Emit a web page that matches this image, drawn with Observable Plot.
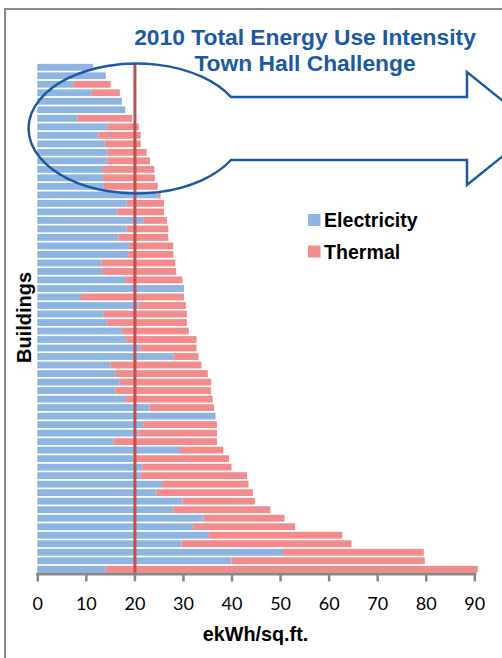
<!DOCTYPE html>
<html>
<head>
<meta charset="utf-8">
<script src="https://cdn.jsdelivr.net/npm/d3@7"></script>
<script src="https://cdn.jsdelivr.net/npm/@observablehq/plot@0.6"></script>
<style>
  html, body { margin: 0; padding: 0; background: #fff; }
  #wrap { position: relative; width: 502px; height: 658px; overflow: hidden; background: #fff; }
  #wrap > svg { position: absolute; left: 0; top: 0; }
  #deco { pointer-events: none; }
</style>
</head>
<body>
<div id="wrap"></div>
<script>
// ---- data (top bar first) ----
const buildings = [1,2,3,4,5,6,7,8,9,10,11,12,13,14,15,16,17,18,19,20,
  21,22,23,24,25,26,27,28,29,30,31,32,33,34,35,36,37,38,39,40,
  41,42,43,44,45,46,47,48,49,50,51,52,53,54,55,56,57,58,59,60];
const electricity = [11.5,14.1,7.4,11.2,17.4,18.1,8.3,14.4,12.6,13.8,
  14.4,14.4,13.5,13.5,13.7,24.8,18.4,16.5,21.8,18.4,
  16.7,18.9,18.7,13.2,13.5,18.1,30.2,9.0,20.9,13.7,
  14.4,17.4,18.3,21.2,28.0,15.1,16.1,17.0,16.1,18.3,
  23.1,36.7,21.8,20.9,15.7,29.2,19.8,21.6,21.2,25.7,
  24.6,29.9,28.0,34.2,32.1,35.4,29.7,50.6,40.0,14.1];
const thermal = [0,0,7.7,5.8,0,0,11.2,6.5,8.7,7.5,
  8.1,8.8,10.6,10.7,11.1,0.6,7.7,9.6,4.9,8.6,
  10.3,9.1,9.3,15.2,15.1,11.8,0,21.2,9.7,17.1,
  16.4,13.8,14.5,11.6,5.2,18.7,19.0,18.8,19.7,17.8,
  13.3,0,15.2,16.1,21.3,9.1,19.7,18.4,22.0,17.8,
  19.8,14.9,20.0,16.7,21.0,27.4,35.0,29.0,39.8,76.6];
const seriesNames = ["Electricity", "Thermal"];
const xTicks = [0,10,20,30,40,50,60,70,80,90];
const target = [20];

const BLUE = "#8eb4e2", RED = "#f28b8b", GRID = "#878787", DARKBLUE = "#1a59a6";

const rows = [];
buildings.forEach((b, i) => {
  rows.push({building: b, type: seriesNames[0], value: electricity[i]});
  rows.push({building: b, type: seriesNames[1], value: thermal[i]});
});

const chart = Plot.plot({
  width: 502,
  height: 658,
  marginLeft: 37.3,
  marginRight: 27.7,
  marginTop: 63,
  marginBottom: 84.5,
  style: {fontFamily: "Lato, 'Open Sans', sans-serif", fontSize: "18px", color: "#000", background: "transparent"},
  x: {domain: [0, 90], axis: null},
  y: {domain: buildings, axis: null, paddingInner: 0.2, paddingOuter: 0.1},
  color: {domain: seriesNames, range: [BLUE, RED]},
  marks: [
    Plot.barX(rows, Plot.stackX({x: "value", y: "building", fill: "type", order: null})),
    Plot.ruleX(target, {stroke: "#c0504d", strokeWidth: 3}),
    Plot.frame({anchor: "bottom", stroke: GRID, strokeWidth: 3}),
    Plot.axisX(xTicks, {anchor: "bottom", tickSize: 8, tickPadding: 15, stroke: GRID, strokeWidth: 2.5, fill: "#000", label: null, tickFormat: d => String(d)})
  ]
});
document.getElementById("wrap").appendChild(chart);

// ---- decoration: border, callout, title, legend, axis titles ----
const ns = "http://www.w3.org/2000/svg";
const deco = document.createElementNS(ns, "svg");
deco.setAttribute("id", "deco");
deco.setAttribute("width", 502);
deco.setAttribute("height", 658);
deco.innerHTML = `
  <line x1="5" y1="8" x2="5" y2="660" stroke="#8a8a8a" stroke-width="2"/>
  <line x1="4" y1="9" x2="504" y2="9" stroke="#8a8a8a" stroke-width="2"/>
  <path d="M231,97 A108,65 0 1 0 231,160 L467,160 L467,185 L537,128.5 L467,72 L467,97 Z"
        fill="none" stroke="${DARKBLUE}" stroke-width="2.5" stroke-linejoin="miter"/>
  <g font-family="'Liberation Sans', Arial, sans-serif" font-weight="bold">
    <text x="305" y="45" text-anchor="middle" font-size="22.8" fill="${DARKBLUE}">2010 Total Energy Use Intensity</text>
    <text x="305" y="71" text-anchor="middle" font-size="22.8" fill="${DARKBLUE}">Town Hall Challenge</text>
    <rect x="308" y="214" width="12.5" height="12" fill="${BLUE}"/>
    <text x="324" y="226.5" font-size="19.6" fill="#000">${seriesNames[0]}</text>
    <rect x="308" y="245.5" width="12.5" height="12" fill="${RED}"/>
    <text x="324" y="258.5" font-size="19.6" fill="#000">${seriesNames[1]}</text>
    <text transform="translate(31,317.5) rotate(-90)" text-anchor="middle" font-size="20" fill="#000">Buildings</text>
    <text x="255.5" y="641" text-anchor="middle" font-size="19.8" fill="#000">ekWh/sq.ft.</text>
  </g>
`;
document.getElementById("wrap").appendChild(deco);
</script>
</body>
</html>
